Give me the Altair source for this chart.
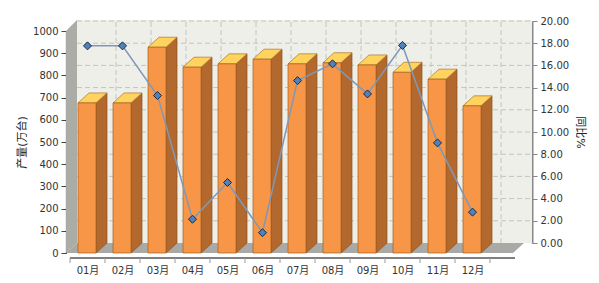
import json
import altair as alt
import pandas as pd

months = ["01月", "02月", "03月", "04月", "05月", "06月",
          "07月", "08月", "09月", "10月", "11月", "12月"]
production = [676, 676, 927, 837, 852, 873, 852, 857, 847, 814, 783, 663]
growth = [17.76, 17.76, 13.28, 2.14, 5.45, 0.93, 14.63, 16.14, 13.43, 17.80, 9.02, 2.78]
left_ticks = list(range(0, 1001, 100))
right_ticks = list(range(0, 21, 2))

# layout / 3D style constants (pixels)
W, H = 466, 222
PX = 35.0          # pixels per month slot
DXP, DYP = 11, 10  # 3D depth offset in px
U0 = -4 / PX
UMAX = U0 + W / PX
DXU = DXP / PX
DYU = DYP * 1000.0 / H
FL, FR = 8 / PX, 26 / PX
FLOOR_R = 12.657
BACK_L = U0 + DXU
WALL_TOP = 1050

xs = alt.Scale(domain=[U0, UMAX], nice=False, zero=False)


def ysc():
    return alt.Scale(domain=[0, 1000], nice=False, zero=False)


def X(f):
    return alt.X(f, type="quantitative", scale=xs, axis=None)


def Y(f):
    return alt.Y(f, type="quantitative", scale=ysc(), axis=None)


# ---- tables built from the arrays ----
front = pd.DataFrame({
    "m": months,
    "x": [i + FL for i in range(12)],
    "x2": [i + FR for i in range(12)],
    "base": [0] * 12,
    "v": production,
})

side_rows, top_rows = [], []
for i, v in enumerate(production):
    side_rows += [
        {"bar": i, "x": i + FR, "y": v, "y2": 0},
        {"bar": i, "x": i + FR + DXU, "y": v + DYU, "y2": DYU},
    ]
    top_rows += [
        {"bar": i, "x": i + FL, "y": v, "y2": v},
        {"bar": i, "x": i + FL + DXU, "y": v + DYU, "y2": v},
        {"bar": i, "x": i + FR, "y": v + DYU, "y2": v},
        {"bar": i, "x": i + FR + DXU, "y": v + DYU, "y2": v + DYU},
    ]
side = pd.DataFrame(side_rows)
top = pd.DataFrame(top_rows)

wall = pd.DataFrame([{"x": BACK_L, "x2": UMAX, "y": DYU, "y2": WALL_TOP}])
lwall = pd.DataFrame([
    {"x": U0, "y": 1000, "y2": 0},
    {"x": BACK_L, "y": WALL_TOP, "y2": DYU},
])
floor = pd.DataFrame([
    {"x": U0, "y": 0, "y2": 0},
    {"x": BACK_L, "y": DYU, "y2": 0},
    {"x": FLOOR_R, "y": DYU, "y2": 0},
    {"x": FLOOR_R + DXU, "y": DYU, "y2": DYU},
])
hgrid = pd.DataFrame({"y": [t * 50 + DYU for t in right_ticks[1:]],
                      "x": BACK_L, "x2": UMAX})
vgrid = pd.DataFrame({"x": [k + DXU for k in range(1, 13)],
                      "y": DYU, "y2": WALL_TOP})
xline = pd.DataFrame([{"x": 0, "x2": 12.714}])
xticks = pd.DataFrame({"x": list(range(13))})
line_df = pd.DataFrame({"m": months, "xc": [i + 0.5 for i in range(12)], "g": growth})

FONT = "DejaVu Sans, Noto Sans CJK SC"

wall_l = alt.Chart(wall).mark_rect(fill="#EFEFE9").encode(
    x=X("x"), x2="x2", y=Y("y"), y2="y2")
lwall_l = alt.Chart(lwall).mark_area(fill="#ABACA6").encode(
    x=X("x"), y=Y("y"), y2="y2")
floor_l = alt.Chart(floor).mark_area(fill="#A9A9A7").encode(
    x=X("x"), y=Y("y"), y2="y2")
hgrid_l = alt.Chart(hgrid).mark_rule(color="#C4C4BE", strokeDash=[5, 3], strokeWidth=1).encode(
    x=X("x"), x2="x2", y=Y("y"))
vgrid_l = alt.Chart(vgrid).mark_rule(color="#C4C4BE", strokeDash=[5, 3], strokeWidth=1).encode(
    x=X("x"), y=Y("y"), y2="y2")
side_l = alt.Chart(side).mark_area(fill="#B3692D", stroke="#8E521D", strokeWidth=0.7).encode(
    x=X("x"), y=Y("y"), y2="y2", detail="bar:N")
top_l = alt.Chart(top).mark_area(fill="#FFD35E", stroke="#A8742A", strokeWidth=0.7).encode(
    x=X("x"), y=Y("y"), y2="y2", detail="bar:N")
front_l = alt.Chart(front).mark_rect(fill="#F79646", stroke="#A0601F", strokeWidth=0.7).encode(
    x=X("x"), x2="x2",
    y=alt.Y("base:Q", scale=ysc(),
            axis=alt.Axis(values=left_ticks, format="d", title="产量(万台)", orient="left",
                          domainColor="#222222", domainWidth=1.2,
                          tickColor="#444444", tickSize=5, labelPadding=3,
                          grid=False, titlePadding=5)),
    y2="v")
xline_l = alt.Chart(xline).mark_rule(color="#555555", strokeWidth=1.5).encode(
    x=X("x"), x2="x2", y=alt.value(H + 5))
xticks_l = alt.Chart(xticks).mark_rule(color="#999999", strokeWidth=1).encode(
    x=X("x"), y=alt.value(H + 5), y2=alt.value(H + 10))

rscale = alt.Scale(domain=[0, 20], range=[H - DYP, -DYP], nice=False, zero=False)
label_expr = json.dumps(months, ensure_ascii=False) + "[floor(datum.value)]"
line_l = alt.Chart(line_df).mark_line(color="#7F98B8", strokeWidth=1.5).encode(
    x=alt.X("xc:Q", scale=xs,
            axis=alt.Axis(values=[i + 0.5 for i in range(12)], labelExpr=label_expr,
                          domain=False, ticks=False, grid=False, offset=5,
                          labelPadding=7, labelOverlap=False, title=None)),
    y=alt.Y("g:Q", scale=rscale,
            axis=alt.Axis(orient="right", values=right_ticks, format=".2f",
                          title="同比%", titleAngle=90, grid=False,
                          domainColor="#888888", domainWidth=2,
                          tickColor="#888888", tickSize=5, labelPadding=3,
                          titlePadding=6)))
pts_l = alt.Chart(line_df).mark_point(shape="diamond", size=64, filled=True,
                                      fill="#4F81BD", stroke="#1B2A40",
                                      strokeWidth=1, opacity=1).encode(
    x=alt.X("xc:Q", scale=xs, axis=None),
    y=alt.Y("g:Q", scale=rscale, axis=None))

chart = alt.layer(
    wall_l, lwall_l, floor_l, hgrid_l, vgrid_l,
    side_l, top_l, front_l, xline_l, xticks_l, line_l, pts_l
).resolve_scale(y="independent").resolve_axis(x="independent").properties(
    width=W, height=H,
    padding={"left": 66, "top": 31, "right": 67, "bottom": 30},
    autosize=alt.AutoSizeParams(type="none"),
    background="white",
).configure_view(stroke=None).configure_axis(
    labelFont=FONT, labelFontSize=10, labelColor="#333333",
    titleFont=FONT, titleFontSize=11, titleFontWeight="normal", titleColor="#222222",
)

chart.save("out.html", embed_options={"renderer": "svg", "actions": False})
